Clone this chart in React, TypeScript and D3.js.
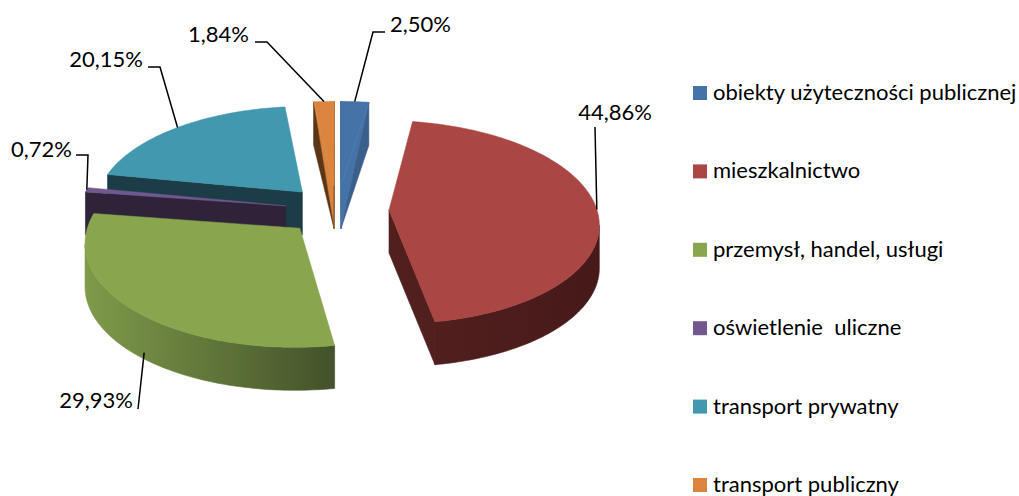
import { useEffect, useRef } from 'react';
import * as d3 from 'd3';

// Udział sektorów (%), kolejność jak w legendzie, od godziny 12 zgodnie z ruchem wskazówek
const categories = [
  'obiekty użyteczności publicznej',
  'mieszkalnictwo',
  'przemysł, handel, usługi',
  'oświetlenie  uliczne',
  'transport prywatny',
  'transport publiczny',
];
const shares = [2.5, 44.86, 29.93, 0.72, 20.15, 1.84];
const topColors = ['#4572A7', '#AA4643', '#89A54E', '#71588F', '#4198AF', '#DB843D'];
const sideColorsA = ['#3A5F8D', '#511F1E', '#7F9A4A', '#2E2339', '#1C3D47', '#5C3517'];
const sideColorsB = ['#3A5F8D', '#461A19', '#43522A', '#2E2339', '#1C3D47', '#5C3517'];
// thin slices: upper half of the radial face is lit like the top
const splitFace = [true, false, false, false, false, true];

// label boxes (layout only); da = angular nudge of the leader anchor, drop = how far down the side
const labelLayout = [
  { x: 390, y: 32, anchor: 'start', elbow: [[385, 32], [373, 32]], drop: 0, da: 0 },
  { x: 615, y: 120, anchor: 'middle', elbow: [[595, 127]], drop: 0, da: 0 },
  { x: 133, y: 408, anchor: 'end', elbow: [[138, 409]], drop: 0.85, da: -0.07 },
  { x: 72, y: 157, anchor: 'end', elbow: [[76, 155], [88, 155]], drop: 0, da: 0 },
  { x: 143, y: 67, anchor: 'end', elbow: [[148, 67], [160, 67]], drop: 0, da: 0 },
  { x: 249, y: 42, anchor: 'end', elbow: [[255, 42], [267, 42]], drop: 0, da: 0 },
];

const width = 1019;
const height = 496;
const font = 'Lato, Carlito, Calibri, sans-serif';

export default function App() {
  const svgRef = useRef<SVGSVGElement>(null);

  useEffect(() => {
    if (!svgRef.current) return;
    const svg = d3.select(svgRef.current);
    svg.selectAll('*').remove();

    // pseudo-perspective projection of the pie plane
    const cx = 337, cy = 210, A = 208, B = 100, K = 0.12, H = 43, explode = 0.25;
    const proj = (u: number, v: number, w: number): [number, number] => {
      const d = 1 + K * v;
      return [cx + (A * u) / d, cy - (B * v) / d + H * w];
    };
    const area = (pts: [number, number][]) => {
      let s = 0;
      for (let i = 0; i < pts.length; i++) {
        const a = pts[i], b = pts[(i + 1) % pts.length];
        s += a[0] * b[1] - b[0] * a[1];
      }
      return s;
    };
    const poly = (pts: [number, number][]) => 'M' + pts.map((p) => p.join(',')).join('L') + 'Z';

    const arcs = d3.pie<number>().sort(null).startAngle(0).endAngle(2 * Math.PI)(shares);

    const defs = svg.append('defs');
    const g = svg.append('g');

    const slices = arcs.map((a, i) => {
      const m = (a.startAngle + a.endAngle) / 2;
      const ou = explode * Math.sin(m), ov = explode * Math.cos(m);
      const pt = (t: number, r: number, w: number) => proj(ou + r * Math.sin(t), ov + r * Math.cos(t), w);
      return { a, i, m, ou, ov, pt };
    });

    // paint far slices first
    const order = [...slices].sort((p, q) => q.ov - p.ov);

    order.forEach(({ a, i, pt }) => {
      const s = a.startAngle, e = a.endAngle;
      const n = Math.max(2, Math.ceil((e - s) / (Math.PI / 180)));
      const ts = d3.range(n + 1).map((k) => s + ((e - s) * k) / n);
      const top = ts.map((t) => pt(t, 1, 0));
      const bot = ts.map((t) => pt(t, 1, 1));
      const tipT = pt(0, 0, 0), tipB = pt(0, 0, 1);

      const grad = defs.append('linearGradient')
        .attr('id', `side${i}`)
        .attr('gradientUnits', 'userSpaceOnUse')
        .attr('x1', d3.min(top, (p) => p[0])!)
        .attr('x2', d3.max(top, (p) => p[0])!)
        .attr('y1', 0).attr('y2', 0);
      grad.append('stop').attr('offset', 0).attr('stop-color', sideColorsA[i]);
      grad.append('stop').attr('offset', 1).attr('stop-color', sideColorsB[i]);
      const sideFill = `url(#side${i})`;

      // outer band: only segments facing the viewer
      let run: number[] = [];
      const runs: number[][] = [];
      for (let k = 0; k < n; k++) {
        const vis = area([top[k], top[k + 1], bot[k + 1], bot[k]]) < 0;
        if (vis) run.push(k);
        else if (run.length) { runs.push(run); run = []; }
      }
      if (run.length) runs.push(run);
      runs.forEach((r) => {
        const k0 = r[0], k1 = r[r.length - 1] + 1;
        const pts = [...top.slice(k0, k1 + 1), ...bot.slice(k0, k1 + 1).reverse()];
        g.append('path').attr('d', poly(pts)).attr('fill', sideFill)
          .attr('stroke', sideFill).attr('stroke-width', 0.6);
      });

      // radial faces
      const faces: [number, number][][] = [
        [tipT, top[0], bot[0], tipB],
        [top[n], tipT, tipB, bot[n]],
      ];
      faces.forEach((f) => {
        if (area(f) >= 0) return;
        const oT = f[0] === tipT ? f[1] : f[0];
        const oB = f[0] === tipT ? f[2] : f[3];
        if (splitFace[i]) {
          g.append('path').attr('d', poly([tipT, oT, tipB])).attr('fill', topColors[i])
            .attr('stroke', topColors[i]).attr('stroke-width', 0.5);
          g.append('path').attr('d', poly([oT, oB, tipB])).attr('fill', sideColorsA[i])
            .attr('stroke', sideColorsA[i]).attr('stroke-width', 0.5);
        } else {
          g.append('path').attr('d', poly(f)).attr('fill', sideColorsA[i])
            .attr('stroke', sideColorsA[i]).attr('stroke-width', 0.6);
        }
      });

      // top face
      g.append('path').attr('d', poly([tipT, ...top])).attr('fill', topColors[i])
        .attr('stroke', topColors[i]).attr('stroke-width', 0.5);
    });

    // data labels with leader lines
    const lab = svg.append('g');
    slices.forEach(({ a, i, m, pt }) => {
      const L = labelLayout[i];
      const anchorPt = pt(m + L.da, 1, L.drop);
      const line = d3.line();
      lab.append('path')
        .attr('d', line([...(L.elbow as [number, number][]), anchorPt]))
        .attr('fill', 'none')
        .attr('stroke', '#000')
        .attr('stroke-width', 1.5);
      lab.append('text')
        .attr('x', L.x)
        .attr('y', L.y)
        .attr('text-anchor', L.anchor)
        .attr('font-family', font)
        .attr('font-size', 22)
        .attr('fill', '#000')
        .text(a.data.toFixed(2).replace('.', ',') + '%');
    });

    // legend
    const legendY = d3.scalePoint<string>().domain(categories).range([93, 485]);
    const leg = svg.append('g');
    categories.forEach((c, i) => {
      const y = legendY(c)!;
      leg.append('rect').attr('x', 693).attr('y', y - 7).attr('width', 14).attr('height', 14)
        .attr('fill', topColors[i]);
      leg.append('text').attr('x', 713).attr('y', y + 7)
        .attr('font-family', font).attr('font-size', 22).attr('fill', '#000')
        .style('white-space', 'pre')
        .text(c);
    });
  }, []);

  return (
    <svg
      ref={svgRef}
      width={width}
      height={height}
      style={{ position: 'absolute', left: 0, top: 0, background: '#fff' }}
    />
  );
}
